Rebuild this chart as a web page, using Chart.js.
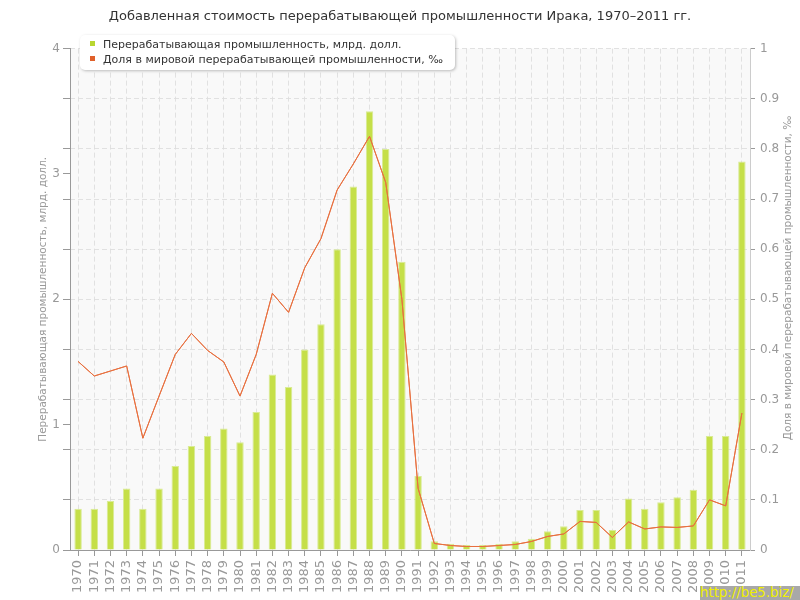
<!DOCTYPE html>
<html>
<head>
<meta charset="utf-8">
<script src="https://cdn.jsdelivr.net/npm/chart.js@4.4.0/dist/chart.umd.min.js"></script>
<style>
body { margin: 0; background: #fff; font-family: "DejaVu Sans", Verdana, sans-serif; }
#wrap { position: relative; width: 800px; height: 600px; }
#legend { position: absolute; left: 80px; top: 35px; width: 375px; height: 35px; background: #fff;
  border-radius: 5px; box-shadow: 1px 1px 3px rgba(0,0,0,0.25); font-size: 11px; color: #333; }
#legend div { position: absolute; left: 10px; white-space: nowrap; }
#legend span { display: inline-block; width: 5px; height: 5px; margin-right: 8px; vertical-align: 2px; }
#rtitle { position: absolute; left: 537px; top: 272px; width: 500px; text-align: center; font-size: 10.5px;
  color: #999; transform: rotate(-90deg); white-space: nowrap; }
#mark { position: absolute; left: 700px; top: 586px; width: 100px; height: 14px; background: #a8a8a8;
  color: #f0f000; font-size: 13.3px; line-height: 14px; text-align: left; white-space: nowrap; overflow: hidden; }
</style>
</head>
<body>
<div id="wrap">
  <canvas id="chart" width="800" height="600"></canvas>
  <div id="legend"></div>
  <div id="rtitle">Доля в мировой перерабатывающей промышленности, ‰</div>
  <div id="mark">http://be5.biz/</div>
</div>
<script>
var years = ['1970','1971','1972','1973','1974','1975','1976','1977','1978','1979',
  '1980','1981','1982','1983','1984','1985','1986','1987','1988','1989',
  '1990','1991','1992','1993','1994','1995','1996','1997','1998','1999',
  '2000','2001','2002','2003','2004','2005','2006','2007','2008','2009','2010','2011'];

// billions of USD
var valueAdded = [0.33, 0.33, 0.39, 0.49, 0.33, 0.49, 0.67, 0.83, 0.91, 0.97,
  0.86, 1.10, 1.40, 1.30, 1.60, 1.80, 2.40, 2.90, 3.50, 3.20,
  2.30, 0.59, 0.07, 0.05, 0.04, 0.04, 0.05, 0.07, 0.09, 0.15,
  0.19, 0.32, 0.32, 0.16, 0.41, 0.33, 0.38, 0.42, 0.48, 0.91, 0.91, 3.10];

// per mille of world manufacturing
var worldShare = [0.376, 0.347, 0.357, 0.367, 0.223, 0.307, 0.390, 0.432, 0.398, 0.375,
  0.307, 0.390, 0.512, 0.474, 0.563, 0.621, 0.718, 0.770, 0.825, 0.733,
  0.500, 0.123, 0.013, 0.009, 0.007, 0.007, 0.009, 0.011, 0.017, 0.027,
  0.032, 0.057, 0.055, 0.025, 0.056, 0.042, 0.046, 0.045, 0.048, 0.100, 0.088, 0.273];

var labelBars = 'Перерабатывающая промышленность, млрд. долл.';
var labelLine = 'Доля в мировой перерабатывающей промышленности, ‰';
var leftTitle = 'Перерабатывающая промышленность, млрд. долл.';
var chartTitle = 'Добавленная стоимость перерабатывающей промышленности Ирака, 1970–2011 гг.';

var green = '#c5df48';
var orange = '#e8703f';
var tickGray = '#999';
var gridGray = 'rgba(222,222,222,0.9)';

var legend = document.getElementById('legend');
[[labelBars, '#b8d630'], [labelLine, '#e0602a']].forEach(function (it, i) {
  var d = document.createElement('div');
  d.style.top = (3 + i * 15) + 'px';
  d.innerHTML = '<span style="background:' + it[1] + '"></span>' + it[0];
  legend.appendChild(d);
});

var plotBg = {
  id: 'plotBg',
  beforeDraw: function (chart) {
    var a = chart.chartArea, ctx = chart.ctx;
    ctx.save();
    ctx.fillStyle = '#f9f9f9';
    ctx.fillRect(a.left, a.top, a.right - a.left, a.bottom - a.top);
    ctx.restore();
  },
  // grid sits over the bars, the share line sits over the grid
  afterDraw: function (chart) {
    chart.getDatasetMeta(0).controller.draw();
  }
};

var font = { family: '"DejaVu Sans", Verdana, sans-serif', size: 12 };

new Chart(document.getElementById('chart'), {
  type: 'bar',
  data: {
    labels: years,
    datasets: [
      { type: 'line', label: labelLine, data: worldShare, yAxisID: 'y1', order: 0,
        borderColor: orange, borderWidth: 1, pointRadius: 0, tension: 0, fill: false },
      { type: 'bar', label: labelBars, data: valueAdded, yAxisID: 'y', order: 1,
        backgroundColor: green, borderColor: '#d9eb95', borderWidth: 1,
        barPercentage: 0.46, categoryPercentage: 1 }
    ]
  },
  options: {
    responsive: false,
    animation: false,
    layout: { padding: 0 },
    plugins: {
      legend: { display: false },
      tooltip: { enabled: false },
      title: { display: true, text: chartTitle, color: '#333',
        font: { family: font.family, size: 13, weight: 'normal' },
        padding: { top: 9, bottom: 24 } }
    },
    scales: {
      x: {
        z: 1,
        afterFit: function (s) { s.height = 50; },
        grid: { offset: false, color: gridGray, tickLength: 6, tickColor: tickGray, tickBorderDash: [] },
        border: { color: tickGray, dash: [5, 3] },
        ticks: { autoSkip: false, maxRotation: 90, minRotation: 90, color: tickGray,
          padding: 4, font: { family: font.family, size: 13 } }
      },
      y: {
        position: 'left', min: 0, max: 4,
        afterFit: function (s) { s.width = 70; },
        afterBuildTicks: function (s) {
          var v = [0, 1, 2, 3, 4];
          for (var i = 1; i < 10; i++) v.push(Math.round(i * 0.4 * 10) / 10);
          v = v.filter(function (x, k) { return v.indexOf(x) === k; }).sort(function (a, b) { return a - b; });
          s.ticks = v.map(function (x) { return { value: x }; });
        },
        grid: { drawOnChartArea: false, tickLength: 7, tickColor: tickGray },
        border: { color: tickGray },
        ticks: { color: tickGray, padding: 3, font: font,
          callback: function (v) { return Number.isInteger(v) ? String(v) : ''; } },
        title: { display: true, text: leftTitle, color: tickGray,
          font: { family: font.family, size: 10.5 },
          padding: { top: 37, bottom: 0 } }
      },
      y1: {
        position: 'right', min: 0, max: 1, z: 1,
        afterFit: function (s) { s.width = 50; },
        grid: { color: gridGray, tickLength: 5, tickColor: tickGray, tickBorderDash: [] },
        border: { color: '#ccc', dash: [5, 3] },
        ticks: { stepSize: 0.1, color: tickGray, padding: 5, font: font,
          callback: function (v) { return String(Math.round(v * 10) / 10); } }
      }
    }
  },
  plugins: [plotBg]
});
</script>
</body>
</html>
